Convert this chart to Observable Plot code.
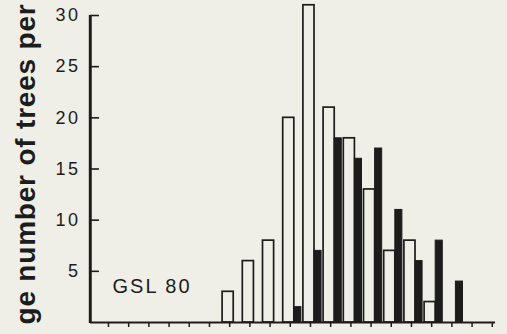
<!DOCTYPE html>
<html>
<head>
<meta charset="utf-8">
<script src="https://cdn.jsdelivr.net/npm/d3@7"></script>
<script src="https://cdn.jsdelivr.net/npm/@observablehq/plot@0.6"></script>
<style>
  html, body { margin: 0; padding: 0; background: #efefe7; }
  svg { display: block; }
</style>
</head>
<body>
<div id="chart"></div>
<script>
// class index (tick positions along the x axis)
const classes = [0,1,2,3,4,5,6,7,8,9,10,11,12,13,14,15,16,17,18,19];
// open bars (outline)
const openValues = [0,0,0,0,0,0,3,6,8,20,31,21,18,13,7,8,2,0,0,0];
// filled bars (solid)
const filledValues = [0,0,0,0,0,0,0,0,0,1.5,7,18,16,17,11,6,8,4,0,0];
const yTickValues = [5,10,15,20,25,30];
const xDomain = [-0.89, 19.16];
const yDomain = [0, 30];
const panelLabel = "GSL 80";
const yLabel = "ge number of trees per";

const bg = "#efefe7";
const ink = "#1c1c1c";

const openData = classes.map((c, k) => ({c, v: openValues[k]})).filter(d => d.v > 0);
const filledData = classes.map((c, k) => ({c, v: filledValues[k]})).filter(d => d.v > 0);

const OPEN_L = -0.35, OPEN_R = 0.2, FILL_L = 0.2, FILL_R = 0.55;

const chart = Plot.plot({
  width: 507,
  height: 334,
  marginLeft: 90,
  marginRight: 12,
  marginTop: 15,
  marginBottom: 12,
  style: {background: bg, color: ink, fontFamily: "'Liberation Sans', Arial, Helvetica, sans-serif", overflow: "visible"},
  x: {domain: xDomain},
  y: {domain: yDomain},
  marks: [
    Plot.rectY(openData, {x1: d => d.c + OPEN_L, x2: d => d.c + OPEN_R, y1: 0, y2: "v", fill: bg, stroke: ink, strokeWidth: 1.7}),
    Plot.rectY(filledData, {x1: d => d.c + FILL_L, x2: d => d.c + FILL_R, y1: 0, y2: "v", fill: ink, stroke: ink, strokeWidth: 1}),
    Plot.axisX({ticks: classes, tickSize: 5, strokeWidth: 1.5, text: null, label: null}),
    Plot.axisY({ticks: yTickValues, tickSize: 0, tickPadding: 10, fontSize: 18, label: null, fill: ink}),
    Plot.tickY(yTickValues, {y: d => d, stroke: ink, strokeWidth: 1.6, insetRight: 396}),
    Plot.ruleY([yDomain[0]], {stroke: ink, strokeWidth: 2.2}),
    Plot.text([panelLabel], {frameAnchor: "bottom-left", dx: 22, dy: -30, textAnchor: "start", lineAnchor: "bottom", fontSize: 20, fill: ink}),
    Plot.text([yLabel], {frameAnchor: "top-left", rotate: -90, textAnchor: "end", lineAnchor: "bottom", dx: -56, dy: -12, fontSize: 28, fontWeight: "bold", fill: ink}),
    Plot.ruleX([xDomain[0]], {stroke: ink, strokeWidth: 2.4})
  ]
});
document.getElementById("chart").appendChild(chart);
const svg = d3.select(chart);
svg.selectAll("text").each(function() {
  const t = d3.select(this);
  const s = this.textContent;
  if (s === yLabel) t.style("letter-spacing", "0.8px");
  else if (s === panelLabel) t.style("letter-spacing", "2px");
  else t.style("letter-spacing", "2.5px");
});
// y-axis line placed through the chart's own scales, on top of everything
const sx = chart.scale("x"), sy = chart.scale("y");
svg.append("line")
  .attr("x1", sx.apply(xDomain[0])).attr("x2", sx.apply(xDomain[0]))
  .attr("y1", sy.apply(yDomain[0]) + 1).attr("y2", sy.apply(yDomain[1]))
  .attr("stroke", ink).attr("stroke-width", 2.4);
</script>
</body>
</html>
